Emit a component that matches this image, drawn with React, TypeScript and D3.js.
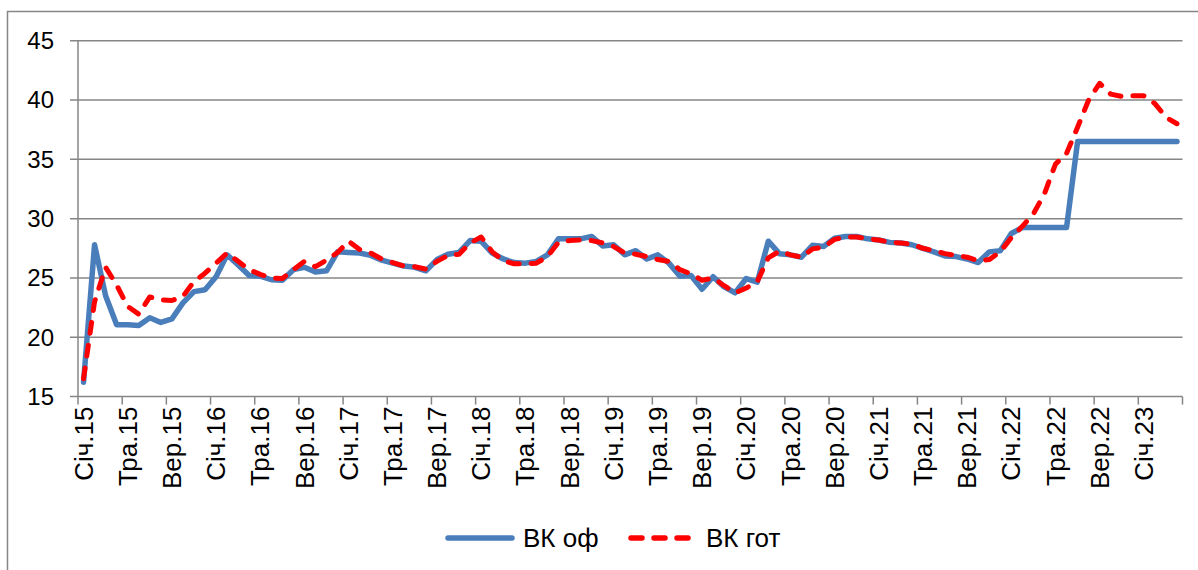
import React, { useEffect, useRef } from "react";
import * as d3 from "d3";

const monthNames = ["Січ", "Лют", "Бер", "Кві", "Тра", "Чер", "Лип", "Сер", "Вер", "Жов", "Лис", "Гру"];
const years = ["15", "16", "17", "18", "19", "20", "21", "22", "23"];
const monthCount = 100; // Січ.15 .. Кві.23

const categories = years
  .flatMap((y) => monthNames.map((m) => m + "." + y))
  .slice(0, monthCount);

// ВК оф
const vkOf = [
  16.2, 27.8, 23.5, 21.05, 21.05, 21.0, 21.65, 21.25, 21.55, 22.9, 23.85, 24.0,
  25.1, 26.95, 26.1, 25.2, 25.15, 24.85, 24.8, 25.7, 25.9, 25.5, 25.6, 27.2,
  27.15, 27.1, 26.9, 26.5, 26.25, 26.0, 25.9, 25.6, 26.55, 27.0, 27.15, 28.15,
  28.1, 27.1, 26.6, 26.3, 26.25, 26.4, 26.95, 28.3, 28.3, 28.3, 28.5, 27.7,
  27.8, 26.95, 27.3, 26.6, 26.95, 26.25, 25.15, 25.2, 24.05, 25.1, 24.25, 23.75,
  24.95, 24.65, 28.1, 27.05, 26.95, 26.75, 27.75, 27.65, 28.35, 28.5, 28.5, 28.3,
  28.2, 28.0, 27.95, 27.8, 27.5, 27.2, 26.85, 26.8, 26.6, 26.3, 27.2, 27.3,
  28.75, 29.25, 29.25, 29.25, 29.25, 29.25, 36.5, 36.5, 36.5, 36.5, 36.5, 36.5,
  36.5, 36.5, 36.5, 36.5,
];

// ВК гот
const vkGot = [
  16.5, 23.0, 25.9, 24.4, 22.6, 21.95, 23.4, 23.15, 23.1, 23.45, 24.7, 25.4,
  26.25, 27.1, 26.4, 25.7, 25.3, 25.0, 24.95, 25.7, 26.4, 25.95, 26.5, 27.15,
  28.1, 27.4, 27.1, 26.6, 26.3, 26.0, 25.95, 25.75, 26.4, 26.9, 27.0, 27.95,
  28.45, 27.2, 26.45, 26.2, 26.2, 26.25, 26.8, 28.0, 28.15, 28.2, 28.15, 27.95,
  27.65, 27.1, 27.0, 26.8, 26.55, 26.4, 25.7, 25.35, 24.8, 25.0, 24.35, 23.75,
  24.15, 24.7, 26.7, 27.25, 26.95, 26.75, 27.45, 27.6, 28.25, 28.45, 28.45, 28.3,
  28.2, 28.0, 27.95, 27.85, 27.5, 27.3, 27.05, 26.9, 26.75, 26.45, 26.55, 27.2,
  28.4, 29.35, 30.4, 32.1, 34.6, 35.5, 37.7, 40.0, 41.4, 40.5, 40.3, 40.35,
  40.35, 39.7, 38.55, 38.0,
];

const yTicks = [15, 20, 25, 30, 35, 40, 45];
const seriesNames = ["ВК оф", "ВК гот"];

const FONT = "'Liberation Sans', Arial, sans-serif";
const GRID = "#868686";
const BLUE = "#4a7ebb";
const RED = "#ff0000";

const App = () => {
  const ref = useRef<SVGSVGElement>(null);

  useEffect(() => {
    const svg = d3.select(ref.current);
    svg.selectAll("*").remove();

    const margin = { left: 78, right: 1182.5, top: 40.7, bottom: 396.6 };

    const x = d3
      .scaleBand<string>()
      .domain(categories)
      .range([margin.left, margin.right])
      .paddingInner(0)
      .paddingOuter(0);
    const bw = x.bandwidth();
    const cx = (i: number) => (x(categories[i]) as number) + bw / 2;

    const y = d3.scaleLinear().domain([15, 45]).range([margin.bottom, margin.top]);

    // chart border
    svg
      .append("rect")
      .attr("x", 7.5)
      .attr("y", 11.5)
      .attr("width", 1200)
      .attr("height", 600)
      .attr("fill", "#fff")
      .attr("stroke", GRID)
      .attr("stroke-width", 1.5);

    // gridlines + y ticks
    const yg = svg.append("g");
    yTicks.forEach((t) => {
      yg.append("line")
        .attr("x1", margin.left - 8)
        .attr("x2", margin.right)
        .attr("y1", y(t))
        .attr("y2", y(t))
        .attr("stroke", GRID)
        .attr("stroke-width", 1.5);
      yg.append("text")
        .attr("x", 54)
        .attr("y", y(t))
        .attr("dy", "0.35em")
        .attr("text-anchor", "end")
        .attr("font-family", FONT)
        .attr("font-size", 24)
        .attr("fill", "#000")
        .text(t);
    });

    // y axis line
    svg
      .append("line")
      .attr("x1", margin.left)
      .attr("x2", margin.left)
      .attr("y1", margin.top)
      .attr("y2", margin.bottom)
      .attr("stroke", GRID)
      .attr("stroke-width", 1.5);

    // x ticks every 4 months, labels at the first month of each group
    const xg = svg.append("g");
    for (let i = 0; i <= monthCount; i += 4) {
      const tx = i < monthCount ? (x(categories[i]) as number) : margin.right;
      xg.append("line")
        .attr("x1", tx)
        .attr("x2", tx)
        .attr("y1", margin.bottom)
        .attr("y2", margin.bottom + 8)
        .attr("stroke", GRID)
        .attr("stroke-width", 1.5);
      if (i < monthCount) {
        xg.append("text")
          .attr("transform", `translate(${cx(i)},${margin.bottom + 10}) rotate(-90)`)
          .attr("dy", "0.35em")
          .attr("text-anchor", "end")
          .attr("font-family", FONT)
          .attr("font-size", 26)
          .attr("fill", "#000")
          .text(categories[i]);
      }
    }

    const line = d3
      .line<number>()
      .x((_, i) => cx(i))
      .y((d) => y(d));

    svg
      .append("path")
      .datum(vkOf)
      .attr("d", line)
      .attr("fill", "none")
      .attr("stroke", BLUE)
      .attr("stroke-width", 5.5)
      .attr("stroke-linejoin", "round")
      .attr("stroke-linecap", "round");

    svg
      .append("path")
      .datum(vkGot)
      .attr("d", line)
      .attr("fill", "none")
      .attr("stroke", RED)
      .attr("stroke-width", 5)
      .attr("stroke-linejoin", "round")
      .attr("stroke-linecap", "round")
      .attr("stroke-dasharray", "11,12");

    // legend
    const legend = [
      { name: seriesNames[0], color: BLUE, dash: null, x: 448 },
      { name: seriesNames[1], color: RED, dash: "11,12", x: 631 },
    ];
    const lg = svg.append("g");
    legend.forEach((l) => {
      const ln = lg
        .append("line")
        .attr("x1", l.x)
        .attr("x2", l.x + 64)
        .attr("y1", 538)
        .attr("y2", 538)
        .attr("stroke", l.color)
        .attr("stroke-width", 5.5)
        .attr("stroke-linecap", "round");
      if (l.dash) ln.attr("stroke-dasharray", l.dash);
      lg.append("text")
        .attr("x", l.x + 75)
        .attr("y", 538)
        .attr("dy", "0.35em")
        .attr("font-family", FONT)
        .attr("font-size", 26)
        .attr("fill", "#000")
        .text(l.name);
    });
  }, []);

  return (
    <svg
      ref={ref}
      width={1198}
      height={570}
      style={{ position: "absolute", left: 0, top: 0, background: "#fff" }}
    />
  );
};

export default App;
